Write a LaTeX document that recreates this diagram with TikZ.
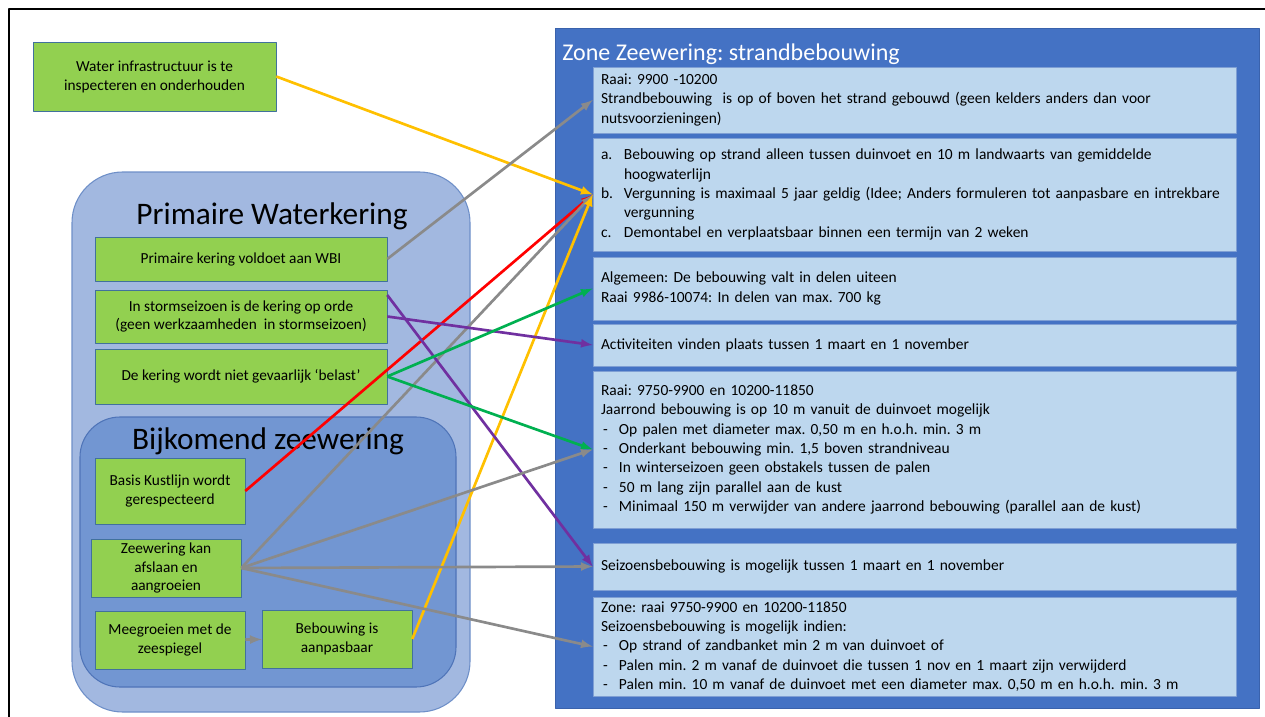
\documentclass[tikz,border=0pt]{standalone}
\usepackage{fontspec}
\setmainfont{Carlito}
\frenchspacing
\definecolor{goalfill}{HTML}{92D050}
\definecolor{goalline}{HTML}{41719C}
\definecolor{primfill}{HTML}{A2B8E0}
\definecolor{primline}{HTML}{6E8FC8}
\definecolor{bijkfill}{HTML}{7296D2}
\definecolor{bijkline}{HTML}{4F74B8}
\definecolor{zonefill}{HTML}{4472C4}
\definecolor{zoneline}{HTML}{3A62AC}
\definecolor{rulefill}{HTML}{BDD7EE}
\definecolor{ruleline}{HTML}{7F9FD4}
\definecolor{arrowyellow}{HTML}{FFC000}
\definecolor{arrowgray}{HTML}{8A8A8A}
\definecolor{arrowred}{HTML}{FF0000}
\definecolor{arrowpurple}{HTML}{7030A0}
\definecolor{arrowgreen}{HTML}{00B050}
\newcommand{\litem}[2]{\mbox{\makebox[17.25pt][l]{#1}#2}}
\newcommand{\lcont}[1]{\mbox{\makebox[17.25pt]{}#1}}
\newcommand{\ditem}[1]{\mbox{\makebox[13.5pt][l]{\hspace{1.5pt}-}#1}}
\begin{document}
\begin{tikzpicture}[x=0.75pt,y=-0.75pt,>=latex,line join=bevel,
    goalbox/.style={draw=goalline,fill=goalfill,rectangle,align=center,inner sep=2pt,
      font=\fontsize{11.5}{14.2}\selectfont},
    rulebox/.style={draw=ruleline,fill=rulefill,rectangle,align=left,inner xsep=6pt,
      text width=470.25pt,minimum width=482.25pt,font=\fontsize{11.6}{14.5}\selectfont},
    groupbox/.style={rectangle,line width=0.8pt},
    linkarrow/.style={->,line width=2pt}]
    %%
    \useasboundingbox (0,0) rectangle (1265,717);
    \draw [line width=2.2pt] (9,717) -- (9,9) -- (1265,9);
    % left side
    \node (water) at (154.5,76.5) [goalbox,minimum width=182.25pt,minimum height=51.75pt] {Water infrastructuur is te\\inspecteren en onderhouden};
    \node (prim) at (271,442) [groupbox,draw=primline,fill=primfill,rounded corners=38pt,minimum width=298.5pt,minimum height=405pt] {};
    \node (primtitle) at (272,216) [font=\fontsize{23.5}{28}\selectfont] {Primaire Waterkering};
    \node (wbi) at (241,259) [goalbox,minimum width=219pt,minimum height=33pt] {Primaire kering voldoet aan WBI};
    \node (storm) at (241,316.5) [goalbox,minimum width=219pt,minimum height=39.75pt] {In stormseizoen is de kering op orde\\(geen werkzaamheden~ in stormseizoen)};
    \node (kering) at (241,376.5) [goalbox,minimum width=219pt,minimum height=41.25pt] {De kering wordt niet gevaarlijk ‘belast’};
    \node (bijk) at (268,552) [groupbox,draw=bijkline,fill=bijkfill,rounded corners=30pt,minimum width=282pt,minimum height=202.5pt] {};
    \node (bijktitle) at (268,441) [font=\fontsize{23.5}{28}\selectfont] {Bijkomend zeewering};
    \node (basis) at (170,491) [goalbox,minimum width=112.5pt,minimum height=49.5pt] {Basis Kustlijn wordt\\gerespecteerd};
    \node (zeew) at (166,568) [goalbox,minimum width=112.5pt,minimum height=43.5pt] {Zeewering kan\\afslaan en\\aangroeien};
    \node (meeg) at (170,640) [goalbox,minimum width=112.5pt,minimum height=43.5pt] {Meegroeien met de\\zeespiegel};
    \node (bebouw) at (337,639) [goalbox,minimum width=112.5pt,minimum height=43.5pt] {Bebouwing is\\aanpasbaar};
    % right side
    \node (zone) at (907,368) [rectangle,draw=zoneline,fill=zonefill,minimum width=528pt,minimum height=510pt] {};
    \node (zonetitle) at (562,54) [anchor=west,text=white,inner sep=0pt,font=\fontsize{18}{22}\selectfont] {Zone Zeewering: strandbebouwing};
    \node (b1) at (914.5,100) [rulebox,minimum height=49.5pt] {Raai: 9900 -10200\\Strandbebouwing~ is op of boven het strand gebouwd (geen kelders anders dan voor\\nutsvoorzieningen)};
    \node (b2) at (914.5,194.5) [rulebox,minimum height=84.75pt] {\litem{a.}{Bebouwing op strand alleen tussen duinvoet en 10 m landwaarts van gemiddelde}\\\lcont{hoogwaterlijn}\\\litem{b.}{Vergunning is maximaal 5 jaar geldig (Idee; Anders formuleren tot aanpasbare en intrekbare}\\\lcont{vergunning}\\\litem{c.}{Demontabel en verplaatsbaar binnen een termijn van 2 weken}};
    \node (b3) at (914.5,288.5) [rulebox,minimum height=47.25pt] {Algemeen: De bebouwing valt in delen uiteen\\Raai 9986-10074: In delen van max. 700 kg};
    \node (b4) at (914.5,345) [rulebox,minimum height=31.5pt] {Activiteiten vinden plaats tussen 1 maart en 1 november};
    \node (b5) at (914.5,449.5) [rulebox,minimum height=117.75pt] {Raai: 9750-9900 en 10200-11850\\Jaarrond bebouwing is op 10 m vanuit de duinvoet mogelijk\\\ditem{Op palen met diameter max. 0,50 m en h.o.h. min. 3 m}\\\ditem{Onderkant bebouwing min. 1,5 boven strandniveau}\\\ditem{In winterseizoen geen obstakels tussen de palen}\\\ditem{50 m lang zijn parallel aan de kust}\\\ditem{Minimaal 150 m verwijder van andere jaarrond bebouwing (parallel aan de kust)}};
    \node (b6) at (914.5,566.5) [rulebox,minimum height=35.25pt] {Seizoensbebouwing is mogelijk tussen 1 maart en 1 november};
    \node (b7) at (914.5,646.5) [rulebox,minimum height=72.75pt] {Zone: raai 9750-9900 en 10200-11850\\Seizoensbebouwing is mogelijk indien:\\\ditem{Op strand of zandbanket min 2 m van duinvoet of}\\\ditem{Palen min. 2 m vanaf de duinvoet die tussen 1 nov en 1 maart zijn verwijderd}\\\ditem{Palen min. 10 m vanaf de duinvoet met een diameter max. 0,50 m en h.o.h. min. 3 m}};
    % links
    \draw [linkarrow,draw=arrowgray] (meeg) -- (bebouw);
    \draw [linkarrow,draw=arrowyellow] (water.east) -- (b2.west);
    \draw [linkarrow,draw=arrowgray] (wbi.east) -- (b1.west);
    \draw [linkarrow,draw=arrowred] (basis.east) -- (b2.west);
    \draw [linkarrow,draw=arrowgray] (zeew.east) -- (b2.west);
    \draw [linkarrow,draw=arrowyellow] (bebouw.east) -- (b2.west);
    \draw [linkarrow,draw=arrowpurple] (storm.east) -- (b4.west);
    \draw [linkarrow,draw=arrowpurple] ([yshift=-4pt]storm.north east) -- (b6.west);
    \draw [linkarrow,draw=arrowgreen] (kering.east) -- (b3.west);
    \draw [linkarrow,draw=arrowgreen] (kering.east) -- (b5.west);
    \draw [linkarrow,draw=arrowgray] (zeew.east) -- (b5.west);
    \draw [linkarrow,draw=arrowgray] (zeew.east) -- (b6.west);
    \draw [linkarrow,draw=arrowgray] (zeew.east) -- (b7.west);
    %
\end{tikzpicture}
\end{document}
